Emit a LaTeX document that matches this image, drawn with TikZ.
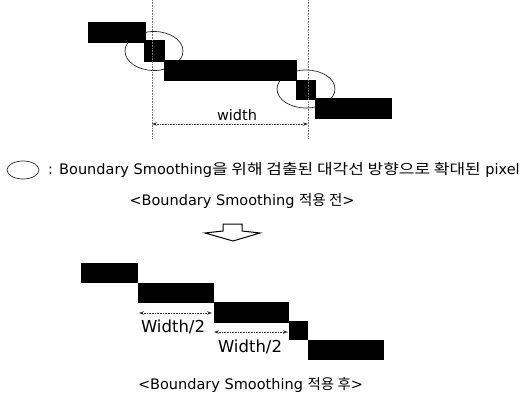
\documentclass[tikz,border=0pt]{standalone}
\usepackage{fontspec}
\setmainfont{DejaVu Sans}
\newfontfamily\kr{Noto Sans CJK KR}
\newfontfamily\krw[FakeStretch=1.17]{Noto Sans CJK KR}
\usetikzlibrary{arrows.meta,shapes.geometric}
\begin{document}
\begin{tikzpicture}[x=1pt,y=-1pt,
  blk/.style={fill=black,draw=none,inner sep=0pt,outer sep=0pt,anchor=north west},
  guide/.style={black!55,densely dotted,line width=0.6pt},
  ring/.style={ellipse,draw=black!85,line width=0.7pt,inner sep=0pt},
  dimline/.style={{Stealth[length=5pt,width=3.5pt]}-{Stealth[length=5pt,width=3.5pt]},line width=0.6pt,densely dotted,black!80},
  lbl/.style={font=\fontsize{14.5}{17}\selectfont,inner sep=0pt},
  biglbl/.style={font=\fontsize{16.5}{19}\selectfont,inner sep=0pt},
  blockarrow/.style={draw=black,line width=1pt,fill=white,line join=miter}
]
\useasboundingbox (0,0) rectangle (527,409);

% ---- before smoothing ----
\node[ring,minimum width=58pt,minimum height=39pt] (e1) at (154,51) {};
\node[ring,minimum width=58pt,minimum height=38pt] (e2) at (306,89) {};

\node[blk,minimum width=58pt,minimum height=21pt] (a1) at (88,22) {};
\node[blk,minimum width=21pt,minimum height=22pt] (a2) at (144,40) {};
\node[blk,minimum width=133pt,minimum height=21pt] (a3) at (164,60) {};
\node[blk,minimum width=20pt,minimum height=20pt] (a4) at (296,80) {};
\node[blk,minimum width=77pt,minimum height=21pt] (a5) at (315,98) {};

\coordinate (g1t) at (152,0);
\coordinate (g1b) at (152,138);
\coordinate (g2t) at (308,0);
\coordinate (g2b) at (308,138);
\draw[guide] (g1t) -- (g1b);
\draw[guide] (g2t) -- (g2b);

\coordinate (w1) at (152,124);
\coordinate (w2) at (308,124);
\draw[dimline] (w1) -- (w2);
\node[lbl] (wl) at (237,115) {width};

% ---- legend ----
\node[ring,minimum width=32pt,minimum height=18pt] (le) at (23,170) {};
\node[lbl,anchor=west] (lt) at (48,170) {: Boundary Smoothing{\krw 을 위해 검출된 대각선 방향으로 확대된} pixel};

\node[lbl] (c1) at (242,201) {<Boundary Smoothing {\kr 적용 전}>};

% ---- hollow down arrow ----
\draw[blockarrow] (223,224) -- (242,224) -- (242,231) -- (260,233) -- (233,241) -- (205,233) -- (223,231) -- cycle;

% ---- after smoothing ----
\node[blk,minimum width=57pt,minimum height=20pt] (b1) at (81,263) {};
\node[blk,minimum width=76pt,minimum height=20pt] (b2) at (138,283) {};
\node[blk,minimum width=75pt,minimum height=21pt] (b3) at (214,302) {};
\node[blk,minimum width=19pt,minimum height=19pt] (b4) at (289,321) {};
\node[blk,minimum width=76pt,minimum height=20pt] (b5) at (308,340) {};

\coordinate (h1) at (139,313);
\coordinate (h2) at (212,313);
\coordinate (h3) at (214,332);
\coordinate (h4) at (288,332);
\draw[dimline] (h1) -- (h2);
\draw[dimline] (h3) -- (h4);
\node[biglbl] (hl1) at (173,327) {Width/2};
\node[biglbl] (hl2) at (250,347) {Width/2};

\node[lbl] (c2) at (250.5,385) {<Boundary Smoothing {\kr 적용 후}>};
\end{tikzpicture}
\end{document}
